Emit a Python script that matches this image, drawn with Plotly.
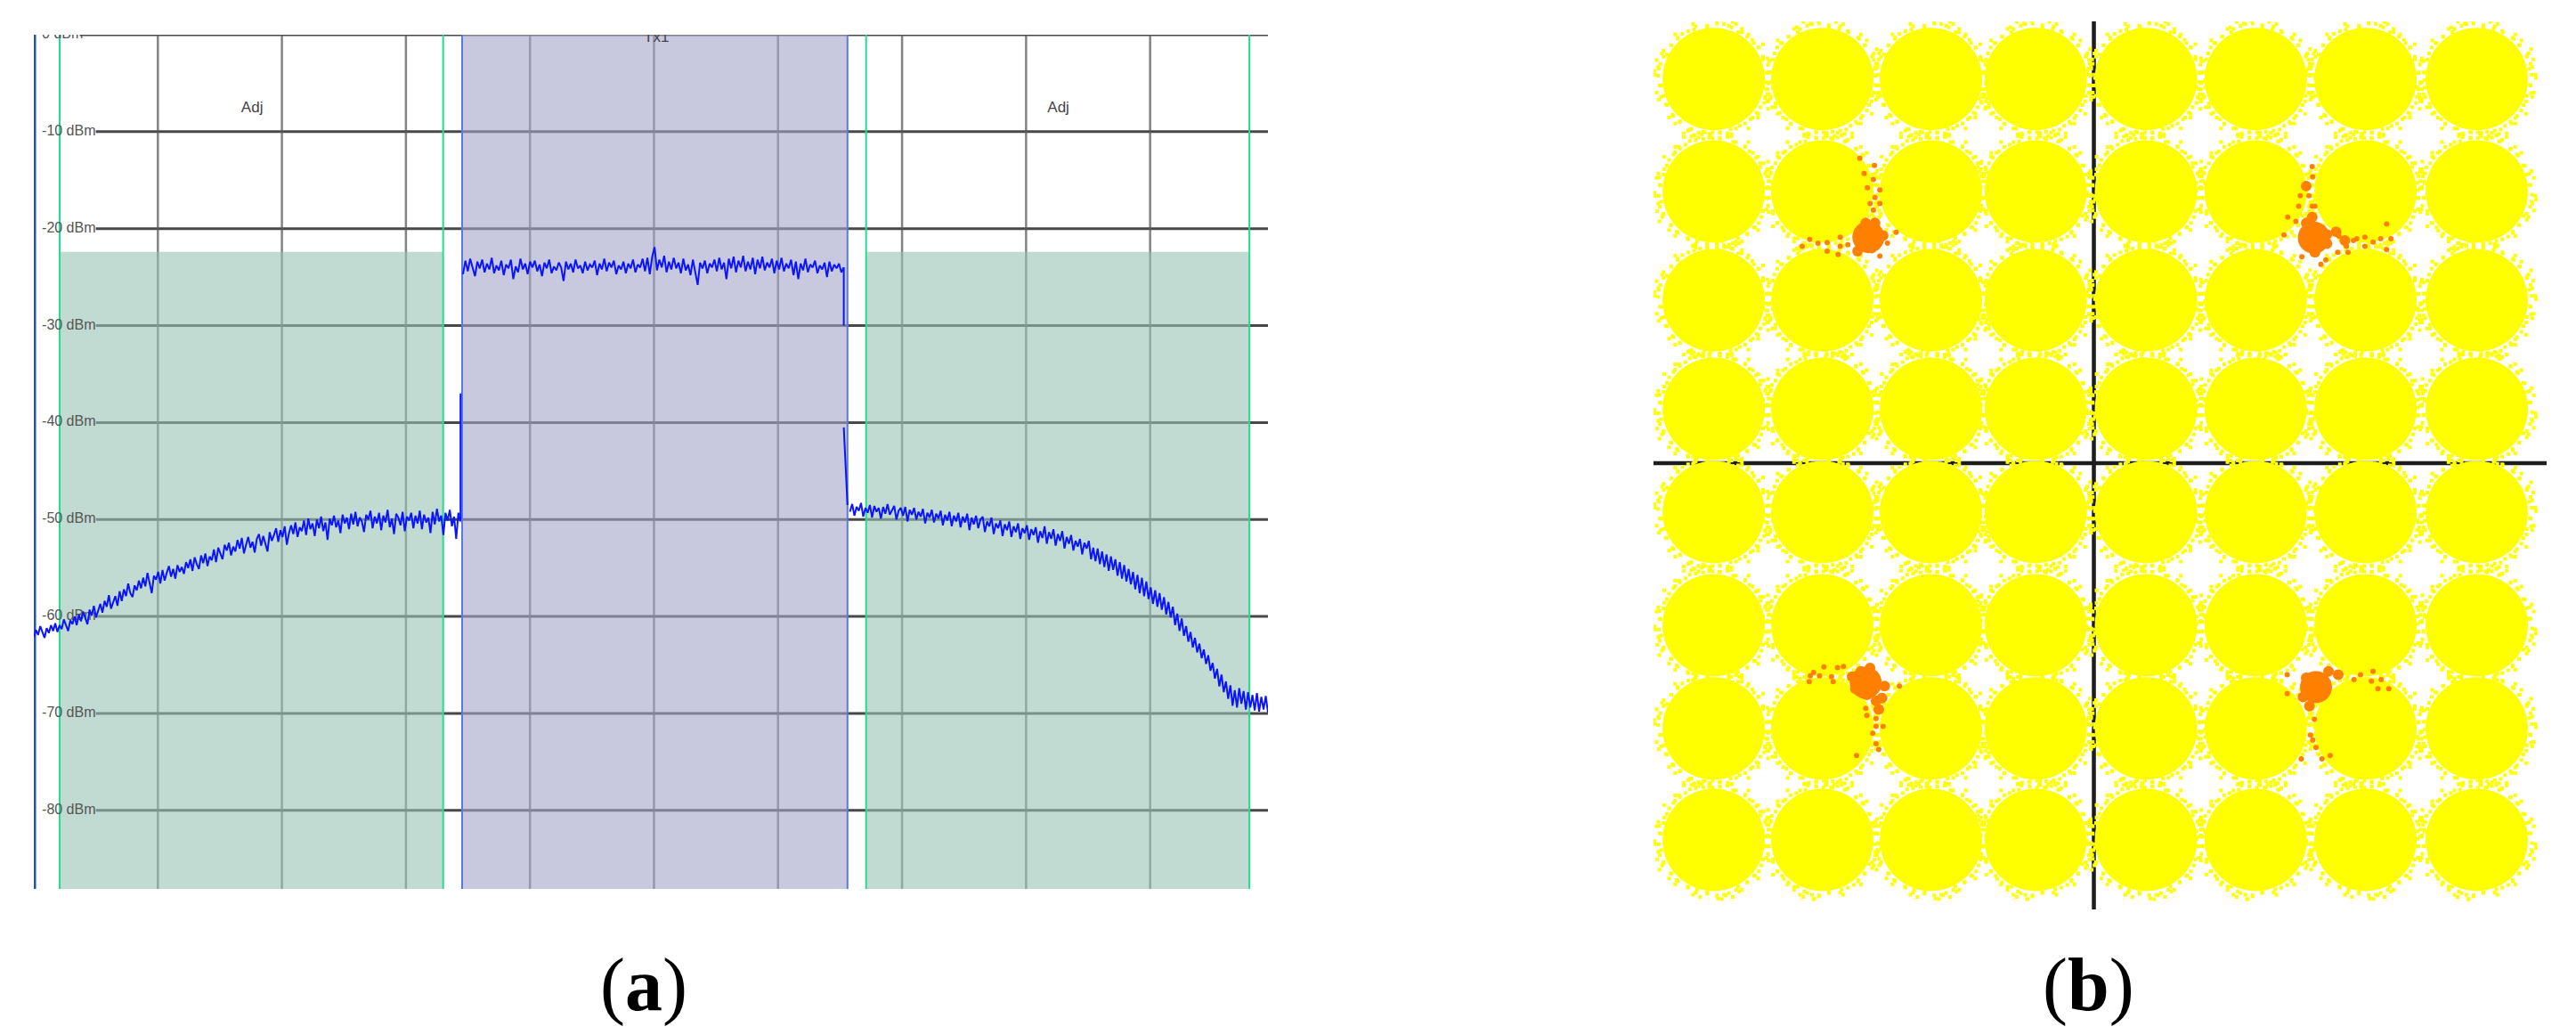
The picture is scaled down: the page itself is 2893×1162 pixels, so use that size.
import numpy as np
import plotly.graph_objects as go

W, H = 2893, 1162
PAGE_PAD = 8  # the page body adds this margin, domains are worked out without it

# --- panel (a): spectrum, x in grid divisions, y in dBm ---
db_levels = [0, -10, -20, -30, -40, -50, -60, -70, -80]
db_labels = ["0 dBm", "-10 dBm", "-20 dBm", "-30 dBm", "-40 dBm", "-50 dBm", "-60 dBm", "-70 dBm", "-80 dBm"]
grid_x = [1, 2, 3, 4, 5, 6, 7, 8, 9]
adj_edges = [0.208, 3.30, 6.71, 9.80]
tx_edges = [3.453, 6.56]
adj_limit = -22.4
y_bottom = -88.1
x_right = 9.95

left_span = [0.0, 3.44]
left_trace = [
    -62.1, -61.4, -61.9, -61.0, -61.6, -62.2, -61.2, -61.7, -60.9, -61.5,
    -60.7, -61.6, -60.9, -61.3, -60.3, -61.0, -61.5, -60.4, -60.8, -60.0,
    -60.9, -59.8, -60.5, -59.5, -60.2, -60.8, -59.3, -59.9, -58.9, -60.1,
    -59.4, -58.7, -59.6, -58.4, -59.0, -57.8, -59.2, -58.6, -57.9, -58.9,
    -57.4, -58.4, -57.2, -57.9, -56.6, -57.6, -58.0, -56.8, -57.3, -56.3,
    -57.1, -56.0, -56.9, -55.5, -56.5, -57.6, -55.8, -56.2, -55.4, -56.6,
    -55.2, -56.3, -55.5, -54.8, -55.9, -55.1, -56.1, -54.7, -55.4, -54.9,
    -55.6, -54.4, -55.0, -54.1, -55.3, -53.9, -54.6, -55.1, -53.7, -54.5,
    -53.5, -54.8, -53.8, -54.2, -53.1, -54.4, -52.9, -53.6, -54.1, -52.6,
    -53.2, -52.4, -53.7, -52.8, -53.3, -52.1, -53.0, -51.9, -53.5, -52.6,
    -51.8, -52.9, -52.3, -53.4, -52.0, -51.5, -52.7, -51.7, -52.4, -53.3,
    -51.3, -52.2, -51.6, -50.9, -52.3, -51.1, -51.8, -50.7, -52.6, -51.4,
    -50.6, -51.5, -50.3, -51.8, -50.8, -51.2, -50.1, -51.6, -49.9, -51.0,
    -50.4, -51.7, -50.0, -50.9, -49.7, -51.2, -50.3, -52.1, -49.9, -50.6,
    -49.6, -50.8, -50.1, -51.4, -49.5, -50.4, -49.8, -51.0, -49.4, -50.5,
    -49.2, -50.7, -49.8, -50.2, -51.3, -49.5, -50.0, -49.1, -50.9, -49.7,
    -50.4, -49.3, -51.1, -49.6, -50.3, -49.0, -50.8, -49.9, -51.5, -49.4,
    -49.8, -50.6, -49.2, -51.2, -49.7, -50.1, -49.3, -50.9, -49.6, -50.4,
    -49.1, -51.0, -49.5, -50.3, -49.8, -51.4, -49.2, -50.5, -48.9, -50.2,
    -49.6, -51.6, -49.3, -50.1, -49.0, -50.7, -49.7, -52.0, -49.3, -50.2,
]

tx_span = [3.46, 6.53]
tx_trace = [
    -24.7, -23.3, -24.4, -23.1, -24.0, -24.9, -23.4, -24.1, -23.2, -24.5,
    -23.6, -24.2, -23.0, -24.6, -23.8, -24.3, -23.3, -24.8, -23.7, -24.1,
    -23.2, -25.2, -23.9, -24.5, -23.1, -24.2, -23.6, -24.7, -23.4, -24.0,
    -23.3, -24.4, -23.7, -24.9, -23.5, -24.1, -23.2, -24.6, -23.9, -24.3,
    -23.5, -24.0, -25.4, -23.4, -24.2, -23.6, -24.5, -23.2, -24.1, -23.8,
    -24.6, -23.4, -24.3, -23.7, -24.0, -23.3, -24.8, -23.6, -24.2, -23.1,
    -24.4, -23.5, -24.0, -23.3, -24.7, -23.8, -24.2, -23.4, -24.6, -23.6,
    -24.1, -23.2, -24.5, -23.7, -24.0, -23.1, -24.4, -23.0, -24.7, -22.9,
    -21.9, -24.3, -23.2, -24.0, -22.8, -24.5, -23.4, -24.2, -23.0, -24.1,
    -23.5, -24.6, -23.1, -24.3, -23.7, -24.8, -23.2, -24.4, -25.8, -23.5,
    -24.1, -23.3, -24.6, -23.6, -24.0, -23.2, -24.4, -23.0, -24.2, -23.5,
    -25.2, -23.1, -24.1, -22.9, -24.5, -23.3, -24.0, -22.8, -24.4, -23.4,
    -24.2, -23.0, -24.7, -23.2, -24.1, -22.9, -24.3, -23.5, -24.0, -23.1,
    -24.6, -23.3, -24.2, -23.0, -24.4, -23.6, -24.1, -23.2, -24.8, -23.4,
    -25.2, -23.6, -24.3, -23.1, -24.5, -23.7, -24.0, -23.3, -24.6, -23.8,
    -24.2, -23.5, -25.0, -23.4, -24.4, -23.7, -24.1, -23.6, -24.5, -24.0,
]

# the steep skirts either side of the Tx block, only the visible parts
edge_x = [3.44, 3.44, None, 6.53, 6.53, None, 6.53, 6.56]
edge_y = [-50.0, -37.0, None, -24.0, -30.0, None, -40.5, -48.5]

right_span = [6.58, 9.95]
right_trace = [
    -49.2, -48.4, -49.6, -48.7, -49.1, -48.3, -49.7, -48.8, -49.3, -48.5,
    -49.8, -48.6, -49.2, -48.8, -49.9, -48.7, -49.4, -48.4, -49.5, -49.0,
    -48.6, -50.0, -49.1, -48.8, -49.6, -48.7, -50.2, -49.0, -49.5, -48.8,
    -50.0, -49.2, -49.7, -48.9, -50.4, -49.3, -49.8, -49.0, -50.3, -49.4,
    -49.9, -49.1, -50.6, -49.5, -50.1, -49.2, -50.7, -49.6, -50.2, -49.3,
    -50.8, -49.7, -50.3, -49.4, -51.1, -49.8, -50.5, -49.6, -50.9, -50.0,
    -49.7, -51.3, -50.2, -50.7, -49.8, -51.5, -50.4, -50.9, -50.1, -51.7,
    -50.5, -51.1, -50.2, -51.8, -50.7, -51.3, -50.4, -52.0, -50.9, -51.4,
    -50.6, -52.1, -51.0, -51.6, -50.8, -52.4, -51.2, -51.9, -50.7, -52.5,
    -51.3, -52.0, -51.0, -52.7, -51.5, -52.2, -51.2, -53.0, -51.8, -52.5,
    -51.6, -53.2, -52.2, -52.8, -52.0, -53.6, -52.4, -53.0, -52.2, -54.1,
    -52.9, -54.3, -53.0, -54.6, -53.3, -54.9, -53.6, -55.3, -53.8, -55.2,
    -54.1, -55.8, -54.4, -56.1, -54.7, -56.4, -55.1, -56.7, -55.4, -57.2,
    -55.7, -57.6, -56.0, -57.9, -56.4, -58.2, -57.0, -58.7, -57.3, -59.0,
    -57.6, -59.3, -58.0, -59.8, -58.5, -60.1, -59.0, -60.9, -59.7, -61.5,
    -60.2, -62.0, -61.0, -62.6, -61.6, -63.2, -62.2, -63.7, -62.8, -64.3,
    -63.4, -64.9, -64.0, -65.6, -64.8, -66.4, -65.4, -67.2, -66.0, -67.8,
    -66.7, -68.5, -67.1, -69.2, -67.6, -69.4, -67.4, -69.0, -67.7, -69.6,
    -67.8, -69.4, -68.1, -69.7, -67.9, -69.8, -68.3, -69.6, -68.2, -69.9,
]

# --- panel (b): 64-QAM constellation, I/Q in level units ---
col_levels = [-7.0, -5.0, -3.0, -1.07, 0.96, 2.98, 5.0, 7.05]
row_levels = [7.07, 5.0, 3.0, 1.0, -0.9, -2.98, -4.88, -6.93]
i_range = [-8.107, 8.336]
q_range = [-8.21, 8.13]

# stray samples round a cloud rim, estimated by eye and reused for every cloud
# (mirrored cloud to cloud), the picture's dots are far too many to read singly
rim_di = [0.98, 0.91, 1.04, 0.74, 0.62, 0.83, 0.45, 0.28, 0.35, 0.06, -0.12, 0.15, -0.33, -0.47, -0.38,
          -0.66, -0.78, -0.71, -0.92, -1.02, -0.95, -1.08, -0.99, -1.05, -0.86, -0.92, -0.74, -0.62, -0.71,
          -0.44, -0.28, -0.36, -0.08, 0.11, -0.02, 0.26, 0.41, 0.33, 0.58, 0.72, 0.64, 0.86, 0.95, 0.82,
          1.09, 1.01, 0.52, -0.55, 0.19, -0.19]
rim_dq = [0.12, 0.36, -0.06, 0.66, 0.78, 0.58, 0.86, 0.98, 1.05, 1.02, 0.96, 1.09, 0.97, 0.88, 1.01,
          0.76, 0.62, 0.82, 0.41, 0.22, 0.47, 0.08, -0.12, -0.25, -0.48, -0.31, -0.68, -0.79, -0.82,
          -0.93, -0.99, -1.04, -1.01, -0.98, -1.09, -1.0, -0.91, -1.02, -0.82, -0.71, -0.91, -0.52, -0.33,
          -0.64, -0.16, -0.41, 0.92, -1.0, 1.01, -0.97]

# orange decision errors: core of each of the four clusters, the clumps round it, then loose samples
err_core_i = [4.05, -4.20, -4.15, 4.09]
err_core_q = [4.15, -4.04, 4.16, -4.12]
err_mid_i = [3.91, 4.02, 3.91, 3.86, 4.13, 4.29, 4.29, 4.07, 4.46, 4.62, 3.91,
             -4.45, -4.29, -4.12, -4.39, -4.18, -4.01, -3.90, -3.96, -3.85,
             -4.32, -4.03, -4.20, -4.03, -4.35, -4.09, -3.88,
             3.91, 4.32, 4.50, 3.85, 3.97, 4.20]
err_mid_q = [4.42, 4.53, 4.26, 4.10, 4.26, 4.21, 4.04, 3.88, 4.26, 4.10, 5.10,
             -3.93, -3.83, -3.77, -4.15, -4.26, -4.37, -4.32, -4.53, -4.10,
             4.25, 4.31, 4.42, 4.42, 3.90, 3.96, 4.19,
             -3.95, -3.83, -3.89, -4.30, -4.47, -4.00]
err_loose_i = [4.03, 4.02, 3.80, 3.96, 3.77, 4.02, 4.07, 3.57, 3.72, 3.50, 4.51, 4.78, 4.84, 4.49, 4.68, 4.65,
               4.99, 4.99, 5.14, 5.28, 5.47, 5.39, 5.39, 4.27, 4.18, 3.83,
               -4.01, -4.01, -3.88, -4.07, -4.01, -3.96, -4.37, -4.18, -4.20, -4.61, -4.72, -4.83, -4.80,
               -4.97, -5.05, -5.16, -5.24, -5.22, -3.58,
               -4.31, -4.04, -4.23, -4.06, -3.94, -4.17, -4.03, -4.12, -3.94, -4.06, -3.64, -3.80, -3.94,
               -5.23, -5.37, -5.08, -4.91, -4.67, -4.67, -4.53, -4.91, -4.71,
               3.99, 4.03, 4.09, 3.82, 4.20, 4.35, 4.06, 4.91, 5.14, 5.11, 5.23, 5.43, 5.29, 3.56, 3.56, 4.79]
err_loose_q = [5.27, 5.46, 4.92, 4.92, 4.73, 4.73, 4.73, 4.53, 4.45, 4.20, 4.18, 4.10, 4.13, 3.88, 3.88, 3.99,
               4.16, 3.99, 4.07, 4.13, 4.13, 4.40, 3.93, 3.74, 3.66, 3.80,
               -4.70, -4.84, -4.84, -4.97, -5.16, -5.27, -5.38, -4.64, -4.51, -3.74, -3.76, -3.93, -4.02,
               -3.75, -3.91, -3.85, -4.02, -3.91, -4.10,
               5.61, 5.48, 5.33, 5.22, 5.03, 5.07, 4.89, 4.78, 4.78, 4.66, 4.25, 4.05, 3.81,
               4.12, 3.99, 4.05, 4.06, 4.16, 3.99, 4.02, 3.90, 3.84,
               -5.00, -5.09, -5.23, -5.44, -5.44, -5.38, -4.71, -3.89, -3.83, -4.01, -4.15, -4.15, -3.98,
               -3.89, -4.24, -3.98]

FONT_LABEL = "Liberation Sans, sans-serif"
BLUE = "#0a14ff"
YELLOW = "#ffff00"
ORANGE = "#ff7f00"

fig = go.Figure()


def linha(x, y, cor, largura, eixo="a"):
    fig.add_trace(go.Scatter(
        x=x, y=y, mode="lines", line=dict(color=cor, width=largura),
        xaxis="x" if eixo == "a" else "x2", yaxis="y" if eixo == "a" else "y2",
        hoverinfo="skip", showlegend=False,
    ))


def faixa(x0, x1, topo, cor):
    fig.add_trace(go.Scatter(
        x=[x0, x1, x1, x0, x0], y=[topo, topo, y_bottom, y_bottom, topo],
        mode="lines", fill="toself", fillcolor=cor, line=dict(width=0),
        hoverinfo="skip", showlegend=False,
    ))


# grid first so the translucent bands tint it
for nivel in db_levels:
    inicio = 0.37 if nivel == 0 else 0.5
    linha([inicio, x_right], [nivel, nivel], "rgba(40,40,40,0.85)", 3)
for gx in grid_x:
    linha([gx, gx], [0, y_bottom], "rgba(90,90,90,0.75)", 2.5)

faixa(adj_edges[0], adj_edges[1], adj_limit, "rgba(153,195,180,0.6)")
faixa(adj_edges[2], adj_edges[3], adj_limit, "rgba(153,195,180,0.6)")
faixa(tx_edges[0], tx_edges[1], 0, "rgba(163,165,200,0.6)")

for ex in adj_edges:
    linha([ex, ex], [0, y_bottom], "#25dc8c", 2)
for ex in tx_edges:
    linha([ex, ex], [0, y_bottom], "#5a78e6", 2)
linha([0.0, 0.0], [0, y_bottom], "#2c50a8", 5)

fig.add_trace(go.Scatter(
    x=[0.065] * len(db_levels), y=db_levels, text=db_labels,
    mode="text", textposition="middle right", cliponaxis=True,
    textfont=dict(family=FONT_LABEL, size=16, color="#555555"),
    hoverinfo="skip", showlegend=False,
))
fig.add_trace(go.Scatter(
    x=[1.76, 8.26, 5.02], y=[-7.6, -7.6, -0.3], text=["Adj", "Adj", "Tx1"],
    mode="text", textposition="middle center", cliponaxis=True,
    textfont=dict(family=FONT_LABEL, size=17, color="#444444"),
    hoverinfo="skip", showlegend=False,
))

# spectrum trace
for span, valores in [(left_span, left_trace), (tx_span, tx_trace), (right_span, right_trace)]:
    linha(np.linspace(span[0], span[1], len(valores)), valores, BLUE, 2)
linha(edge_x, edge_y, BLUE, 2)

# panel (b) axes, under the clouds so strays break them up
linha(i_range, [0, 0], "#1c1c1c", 4.5, "b")
linha([0, 0], q_range, "#1c1c1c", 4.5, "b")

cloud_i = [c for r in row_levels for c in col_levels]
cloud_q = [r for r in row_levels for c in col_levels]
fig.add_trace(go.Scatter(
    x=cloud_i, y=cloud_q, mode="markers", xaxis="x2", yaxis="y2",
    marker=dict(symbol="circle", size=115, color=YELLOW, line=dict(width=0)),
    hoverinfo="skip", showlegend=False,
))

# each cloud takes the rim list twice, straight and with the axes swapped
rim_i, rim_q = [], []
for n, (ci, cq) in enumerate(zip(cloud_i, cloud_q)):
    si = -1 if n % 2 else 1
    sq = -1 if (n // 8) % 2 else 1
    rim_i += [ci + si * d for d in rim_di] + [ci - sq * d for d in rim_dq]
    rim_q += [cq + sq * d for d in rim_dq] + [cq + si * d for d in rim_di]
fig.add_trace(go.Scatter(
    x=rim_i, y=rim_q, mode="markers", xaxis="x2", yaxis="y2",
    marker=dict(symbol="square", size=4, color=YELLOW, line=dict(width=0)),
    hoverinfo="skip", showlegend=False,
))

for ei, eq, tam in [(err_core_i, err_core_q, 36), (err_mid_i, err_mid_q, 12), (err_loose_i, err_loose_q, 6)]:
    fig.add_trace(go.Scatter(
        x=ei, y=eq, mode="markers", xaxis="x2", yaxis="y2",
        marker=dict(symbol="circle", size=tam, color=ORANGE, line=dict(width=0)),
        hoverinfo="skip", showlegend=False,
    ))


def eixo(dominio, faixa_valores):
    return dict(domain=dominio, range=faixa_valores, visible=False, fixedrange=True)


def px_x(a, b):
    return [(a - PAGE_PAD) / W, (b - PAGE_PAD) / W]


def px_y(topo, base):
    return [1 - (base - PAGE_PAD) / H, 1 - (topo - PAGE_PAD) / H]


fig.update_layout(
    width=W, height=H, margin=dict(t=0, b=0, l=0, r=0),
    paper_bgcolor="white", plot_bgcolor="rgba(0,0,0,0)", showlegend=False,
    xaxis=eixo(px_x(38, 1424), [0, x_right]),
    yaxis=eixo(px_y(39, 998), [y_bottom, 0]),
    xaxis2=dict(eixo(px_x(1857, 2860), i_range), anchor="y2"),
    yaxis2=dict(eixo(px_y(24, 1021), q_range), anchor="x2"),
    annotations=[
        dict(text="(<b>a</b>)", x=(723 - PAGE_PAD) / W, y=1 - (1106 - PAGE_PAD) / H, xref="paper", yref="paper",
             showarrow=False, xanchor="center", yanchor="middle",
             font=dict(family="Liberation Serif", size=84, color="black")),
        dict(text="(<b>b</b>)", x=(2345 - PAGE_PAD) / W, y=1 - (1106 - PAGE_PAD) / H, xref="paper", yref="paper",
             showarrow=False, xanchor="center", yanchor="middle",
             font=dict(family="Liberation Serif", size=84, color="black")),
    ],
)

fig.write_html("out.html")
